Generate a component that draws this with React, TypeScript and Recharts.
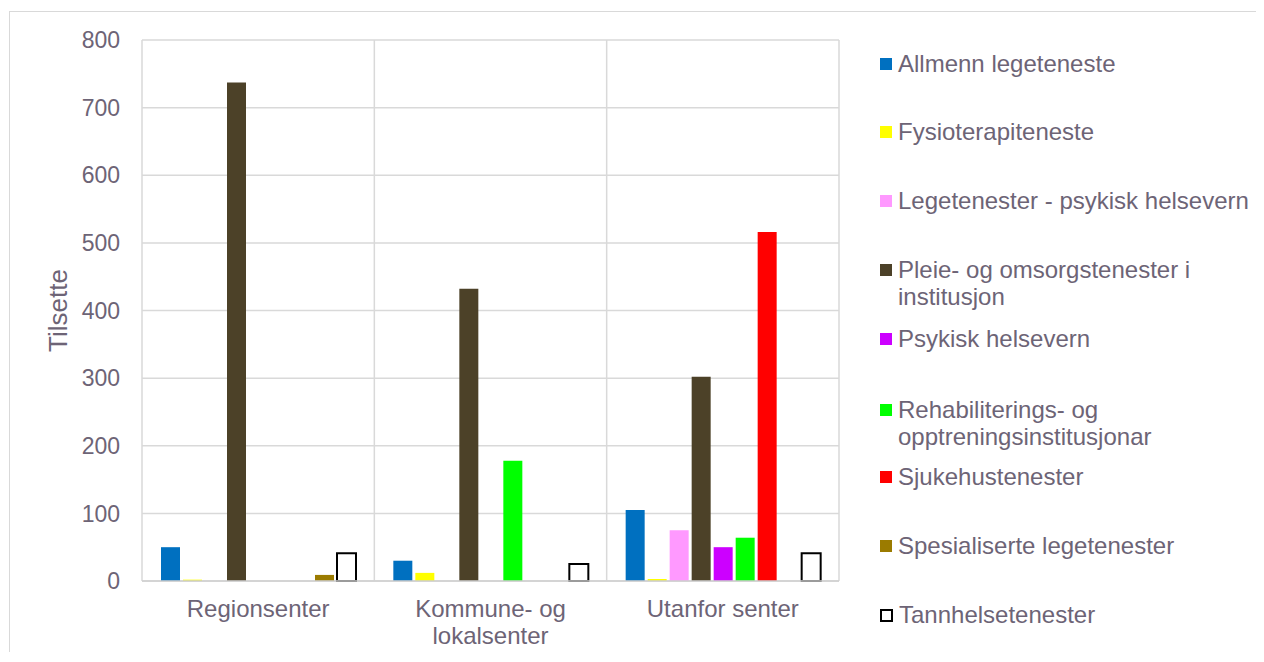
import React from 'react';
import { BarChart, Bar, XAxis, YAxis, CartesianGrid, Legend } from 'recharts';

const categories = ['Regionsenter', 'Kommune- og lokalsenter', 'Utanfor senter'];
const tickLines = [['Regionsenter'], ['Kommune- og', 'lokalsenter'], ['Utanfor senter']];
const yTicks = [0, 100, 200, 300, 400, 500, 600, 700, 800];

const allmenn = [50, 30, 105];
const fysio = [2, 12, 3];
const legePsyk = [0, 0, 75];
const pleie = [737, 432, 302];
const psykisk = [0, 0, 50];
const rehab = [0, 178, 64];
const sjukehus = [0, 0, 516];
const spesial = [9, 0, 0];
const tannhelse = [41, 25, 41];

const series = [
  { key: 'allmenn', name: 'Allmenn legeteneste', values: allmenn, fill: '#0070c0' },
  { key: 'fysio', name: 'Fysioterapiteneste', values: fysio, fill: '#ffff00' },
  { key: 'legePsyk', name: 'Legetenester - psykisk helsevern', values: legePsyk, fill: '#ff99ff' },
  { key: 'pleie', name: 'Pleie- og omsorgstenester i institusjon', values: pleie, fill: '#4c4128' },
  { key: 'psykisk', name: 'Psykisk helsevern', values: psykisk, fill: '#cc00ff' },
  { key: 'rehab', name: 'Rehabiliterings- og opptreningsinstitusjonar', values: rehab, fill: '#00ff00' },
  { key: 'sjukehus', name: 'Sjukehustenester', values: sjukehus, fill: '#ff0000' },
  { key: 'spesial', name: 'Spesialiserte legetenester', values: spesial, fill: '#9b7b00' },
  { key: 'tannhelse', name: 'Tannhelsetenester', values: tannhelse, fill: '#ffffff', stroke: '#000000' },
];

const data = categories.map((c, i) => {
  const row: any = { name: c };
  series.forEach((s) => { row[s.key] = s.values[i]; });
  return row;
});

const TEXT = '#6d6476';
const GRID = '#d9d9d9';
const FONT = '"Liberation Sans", Arial, sans-serif';

// first-line centre of each legend entry, measured from legend top
const legendTops = [52, 120, 189, 258, 327, 398, 465, 534, 603];

const XTick = (props: any) => {
  const { x, y, payload } = props;
  const lines = tickLines[payload.index] || [payload.value];
  return (
    <text x={x} y={y} textAnchor="middle" fill={TEXT} fontSize={24} fontFamily={FONT}>
      {lines.map((l, i) => (
        <tspan key={i} x={x} dy={i === 0 ? 28 : 27}>{l}</tspan>
      ))}
    </text>
  );
};

const LegendBox = () => (
  <div style={{ position: 'relative', width: 400, height: 630, fontFamily: FONT }}>
    {series.map((s, i) => (
      <div
        key={s.key}
        style={{
          position: 'absolute',
          left: 41,
          top: legendTops[i] - 14,
          width: 382,
          display: 'flex',
          alignItems: 'flex-start',
          color: TEXT,
          fontSize: 24,
          lineHeight: '27px',
        }}
      >
        <span
          style={{
            display: 'inline-block',
            width: s.stroke ? 9 : 12,
            height: s.stroke ? 9 : 12,
            marginTop: 8,
            marginRight: 6,
            background: s.fill,
            border: s.stroke ? `2px solid ${s.stroke}` : 'none',
            flex: 'none',
          }}
        />
        <span style={{ maxWidth: 362 }}>{s.name}</span>
      </div>
    ))}
  </div>
);

export default function App() {
  return (
    <div style={{ width: 1262, height: 640, border: `1px solid ${GRID}`, borderBottom: 'none', marginLeft: 1, marginTop: 3, position: 'relative' }}>
      <style>{'html,body{overflow:hidden}'}</style>
      <BarChart
        width={1252}
        height={640}
        data={data}
        margin={{ top: 28, right: 23, bottom: 0, left: 0 }}
        barSize={19}
        barGap={3}
      >
        <CartesianGrid
          stroke={GRID}
          strokeWidth={1.5}
          verticalCoordinatesGenerator={({ offset }: any) =>
            [0, 1, 2, 3].map((i) => offset.left + (i * offset.width) / categories.length)
          }
        />
        <XAxis
          dataKey="name"
          height={71}
          tickLine={false}
          axisLine={{ stroke: '#cfcfcf', strokeWidth: 1.5 }}
          tick={<XTick />}
          interval={0}
        />
        <YAxis
          width={132}
          domain={[0, 800]}
          ticks={yTicks}
          tickLine={false}
          axisLine={false}
          tickMargin={16}
          tick={{ fill: TEXT, fontSize: 23, fontFamily: FONT }}
          label={{
            value: 'Tilsette',
            angle: -90,
            position: 'insideLeft',
            offset: 48,
            fill: TEXT,
            fontSize: 26,
            fontFamily: FONT,
            style: { textAnchor: 'middle' },
          }}
        />
        <Legend
          layout="vertical"
          align="right"
          verticalAlign="top"
          wrapperStyle={{ top: 0 }}
          content={<LegendBox />}
        />
        {series.map((s) => (
          <Bar
            key={s.key}
            dataKey={s.key}
            name={s.name}
            fill={s.fill}
            stroke={s.stroke}
            strokeWidth={s.stroke ? 2 : 0}
            isAnimationActive={false}
          />
        ))}
      </BarChart>
    </div>
  );
}
